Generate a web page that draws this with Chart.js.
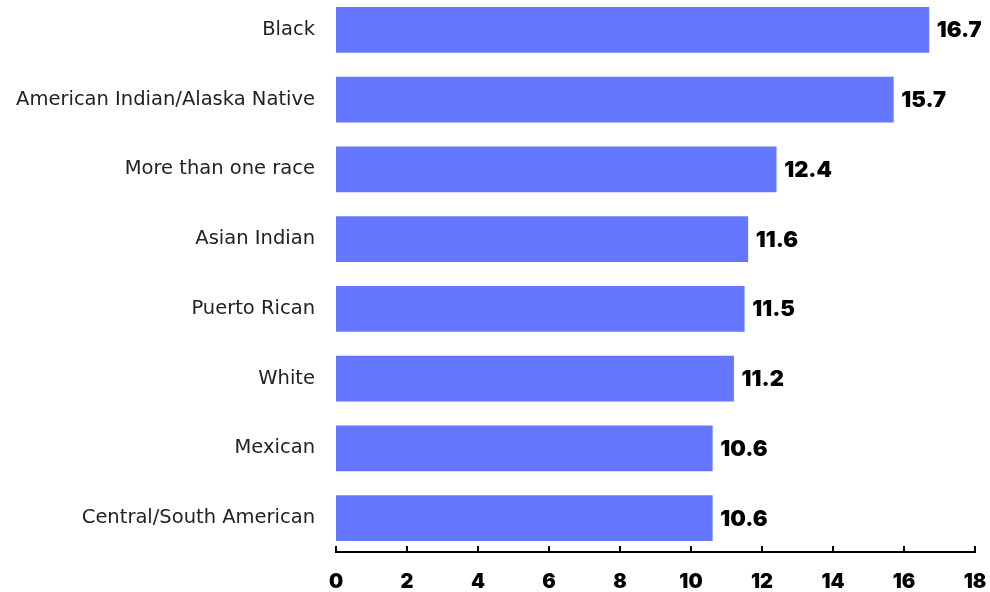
<!DOCTYPE html>
<html>
<head>
<meta charset="utf-8">
<script src="https://cdn.jsdelivr.net/npm/chart.js@4"></script>
<style>
  html, body { margin: 0; padding: 0; background: #fff; overflow: hidden; }
  #wrap { position: absolute; left: 0; top: -5px; width: 990px; height: 599px; }
</style>
</head>
<body>
<div id="wrap"><canvas id="rateChart" width="990" height="599"></canvas></div>
<script>
const groups = [
  'Black',
  'American Indian/Alaska Native',
  'More than one race',
  'Asian Indian',
  'Puerto Rican',
  'White',
  'Mexican',
  'Central/South American'
];
const rates = [16.7, 15.7, 12.4, 11.6, 11.5, 11.2, 10.6, 10.6];
const xTicks = [0, 2, 4, 6, 8, 10, 12, 14, 16, 18];

const barColor = '#6677ff';

// value labels at the end of each bar
const valueLabels = {
  id: 'valueLabels',
  afterDatasetsDraw(chart){
    const ctx = chart.ctx;
    const meta = chart.getDatasetMeta(0);
    ctx.save();
    ctx.font = '900 22px Inter';
    ctx.fillStyle = '#000';
    ctx.textAlign = 'left';
    ctx.textBaseline = 'middle';
    meta.data.forEach((bar, i) => {
      ctx.fillText(rates[i].toFixed(1), bar.x + 8, bar.y + 1);
    });
    ctx.restore();
  }
};

// baseline with tick marks pointing up into the plot
const axisLine = {
  id: 'axisLine',
  afterDraw(chart){
    const ctx = chart.ctx;
    const x = chart.scales.x;
    const yb = chart.chartArea.bottom - 1;
    ctx.save();
    ctx.strokeStyle = '#000';
    ctx.lineWidth = 2;
    ctx.beginPath();
    ctx.moveTo(x.getPixelForValue(xTicks[0]) - 1, yb);
    ctx.lineTo(x.getPixelForValue(xTicks[xTicks.length - 1]) + 1, yb);
    xTicks.forEach(v => {
      const px = Math.round(x.getPixelForValue(v));
      ctx.moveTo(px, yb + 1);
      ctx.lineTo(px, yb - 6);
    });
    ctx.stroke();
    ctx.restore();
  }
};

new Chart(document.getElementById('rateChart'), {
  type: 'bar',
  data: {
    labels: groups,
    datasets: [{
      data: rates,
      backgroundColor: barColor,
      borderWidth: 0,
      barThickness: 45
    }]
  },
  options: {
    indexAxis: 'y',
    responsive: false,
    animation: false,
    layout: { padding: { left: 0, right: 15, top: 0, bottom: 0 } },
    plugins: {
      legend: { display: false },
      tooltip: { enabled: false }
    },
    scales: {
      x: {
        min: 0,
        max: 18,
        afterBuildTicks(scale){ scale.ticks = xTicks.map(v => ({ value: v })); },
        afterFit(scale){
          scale.height = 41;
          scale.paddingLeft = 0;
          scale.paddingRight = 0;
        },
        grid: { display: false, drawTicks: false },
        border: { display: false },
        ticks: {
          padding: 17,
          color: '#000',
          font: { family: 'Inter', size: 20, weight: '900' }
        }
      },
      y: {
        afterFit(scale){
          scale.width = 336;
          scale.paddingTop = 0;
          scale.paddingBottom = 0;
        },
        grid: { display: false, drawTicks: false },
        border: { display: false },
        ticks: {
          padding: 21,
          color: '#222',
          font: { family: 'DejaVu Sans', size: 19.5 }
        }
      }
    }
  },
  plugins: [valueLabels, axisLine]
});
</script>
</body>
</html>
